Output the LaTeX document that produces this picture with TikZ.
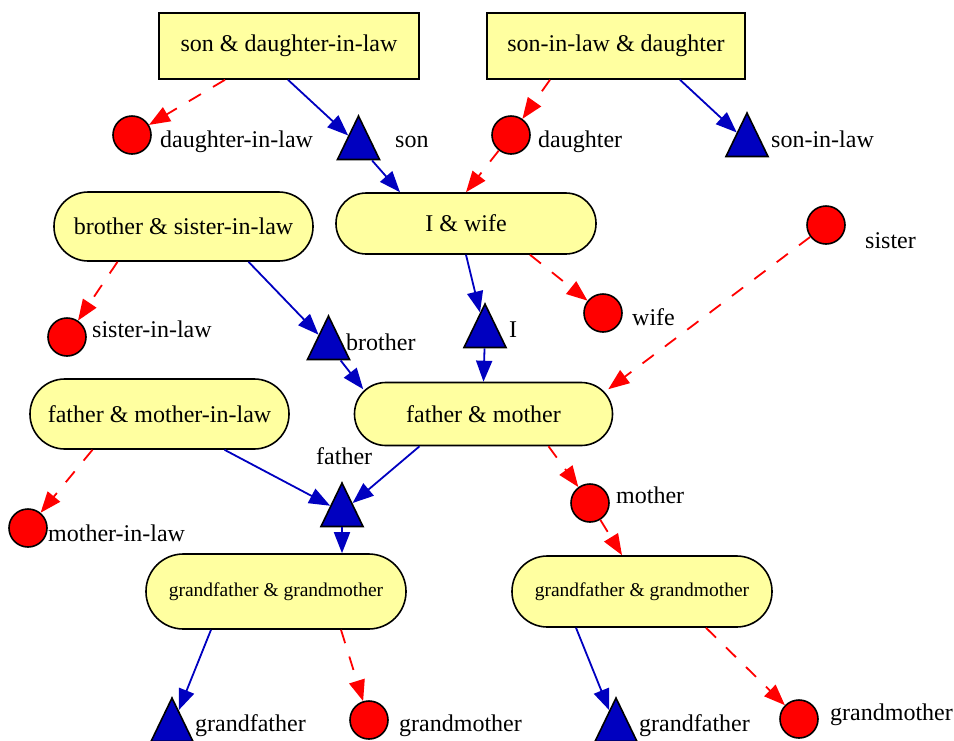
\documentclass[tikz,border=0pt]{standalone}
\usepackage{fontspec}
\setmainfont{Liberation Serif}
\usetikzlibrary{arrows.meta,shapes.geometric}

\definecolor{boxfill}{HTML}{FFFFA0}
\definecolor{malecol}{HTML}{0000C0}
\definecolor{femcol}{HTML}{FF0000}

\tikzset{
  bigtext/.style={font=\fontsize{24pt}{28pt}\selectfont},
  smalltext/.style={font=\fontsize{19.5pt}{23pt}\selectfont},
  couplebase/.style={draw=black, line width=1.6pt, fill=boxfill, inner sep=0pt, bigtext},
  rectbox/.style={couplebase, rectangle, minimum width=260pt, minimum height=66pt},
  pair/.style 2 args={couplebase, rectangle, minimum width=#1pt, minimum height=#2pt,
    rounded corners=#2pt/2-0.2pt},
  female/.style={circle, draw=black, line width=1.6pt, fill=femcol, minimum size=38pt, inner sep=0pt},
  male/.style={regular polygon, regular polygon sides=3, minimum size=48.5pt, inner sep=0pt,
    draw=black, line width=1.6pt, fill=malecol, transform shape, yscale=1.195},
  tag/.style={inner sep=0pt, anchor=base west, bigtext},
  mline/.style={draw=malecol, line width=1.8pt, -{Triangle[length=21pt,width=16pt]}},
  fline/.style={draw=femcol, line width=1.8pt, dash pattern=on 14pt off 14pt,
    -{Triangle[length=21pt,width=16pt]}},
}

\begin{document}
\begin{tikzpicture}[x=1pt, y=-1pt]
\useasboundingbox (0,0) rectangle (954,740);

% couples
\node[rectbox] (sdl) at (289,46) {son \& daughter-in-law};
\node[rectbox, minimum width=258pt] (sld) at (616,46) {son-in-law \& daughter};
\node[pair={260}{61}] (iw) at (466,223.5) {I \& wife};
\node[pair={259}{69}] (bsl) at (183.5,226.5) {brother \& sister-in-law};
\node[pair={258}{63}] (fm) at (483.5,414) {father \& mother};
\node[pair={259}{70}] (fml) at (159.5,414) {father \& mother-in-law};
\node[pair={260}{75}, smalltext] (gpl) at (276,591.5) {grandfather \& grandmother};
\node[pair={260}{71}, smalltext] (gpr) at (642,591.5) {grandfather \& grandmother};

% persons
\node[female] (dil) at (132,135) {};
\node[male] (son) at (358.5,145) {};
\node[female] (dau) at (511,135) {};
\node[male] (sil) at (747,142) {};
\node[female] (sis) at (826,225) {};
\node[female] (wife) at (603,313) {};
\node[female] (sisl) at (67,337) {};
\node[male] (bro) at (328.5,345) {};
\node[male] (me) at (485,333) {};
\node[female] (mil) at (28,528) {};
\node[male] (fa) at (342,512) {};
\node[female] (mo) at (590,503) {};
\node[male] (gfl) at (172,727) {};
\node[female] (gml) at (369,720) {};
\node[male] (gfr) at (616,727) {};
\node[female] (gmr) at (799,719) {};

% names
\node[tag] (t-dil) at (160,147) {daughter-in-law};
\node[tag] (t-son) at (395,147) {son};
\node[tag] (t-dau) at (538,147) {daughter};
\node[tag] (t-sil) at (771,147) {son-in-law};
\node[tag] (t-sis) at (865,248) {sister};
\node[tag] (t-wife) at (632,325) {wife};
\node[tag] (t-sisl) at (92,337) {sister-in-law};
\node[tag] (t-bro) at (346,350) {brother};
\node[tag] (t-me) at (509,337) {I};
\node[tag] (t-fa) at (316,464) {father};
\node[tag] (t-mil) at (48,541) {mother-in-law};
\node[tag] (t-mo) at (616,503) {mother};
\node[tag] (t-gfl) at (195,731) {grandfather};
\node[tag] (t-gml) at (399,731) {grandmother};
\node[tag] (t-gfr) at (639,731) {grandfather};
\node[tag] (t-gmr) at (830,720) {grandmother};

% links
\draw[fline] ([xshift=-64pt]sdl.south) -- (dil);
\draw[mline] ([xshift=-1pt]sdl.south) -- (son);
\draw[mline] (son) -- ([xshift=-66pt]iw.north);
\draw[fline] ([xshift=-66pt]sld.south) -- (dau);
\draw[fline] (dau) -- (iw.north);
\draw[mline] ([xshift=64pt]sld.south) -- (sil);
\draw[mline] (iw.south) -- (me);
\draw[fline] ([xshift=64pt]iw.south) -- (wife);
\draw[mline] (me) -- (fm.north);
\draw[fline] ([xshift=-66pt]bsl.south) -- (sisl);
\draw[mline] ([xshift=65pt]bsl.south) -- (bro);
\draw[mline] (bro) -- ([shift={(9.5pt,-7.5pt)}]fm.north west);
\draw[fline] (sis) -- ([shift={(-5pt,-7.5pt)}]fm.north east);
\draw[fline] ([xshift=-67pt]fml.south) -- (mil);
\draw[mline] ([xshift=65pt]fml.south) -- (fa);
\draw[mline] ([xshift=-64pt]fm.south) -- (fa);
\draw[fline] ([xshift=65pt]fm.south) -- (mo);
\draw[mline] (fa) -- ([xshift=66pt]gpl.north);
\draw[fline] (mo) -- ([xshift=-20pt]gpr.north);
\draw[mline] ([xshift=-65pt]gpl.south) -- (gfl);
\draw[fline] ([xshift=65pt]gpl.south) -- (gml);
\draw[mline] ([xshift=-66pt]gpr.south) -- (gfr);
\draw[fline] ([xshift=64pt]gpr.south) -- (gmr);
\end{tikzpicture}
\end{document}
